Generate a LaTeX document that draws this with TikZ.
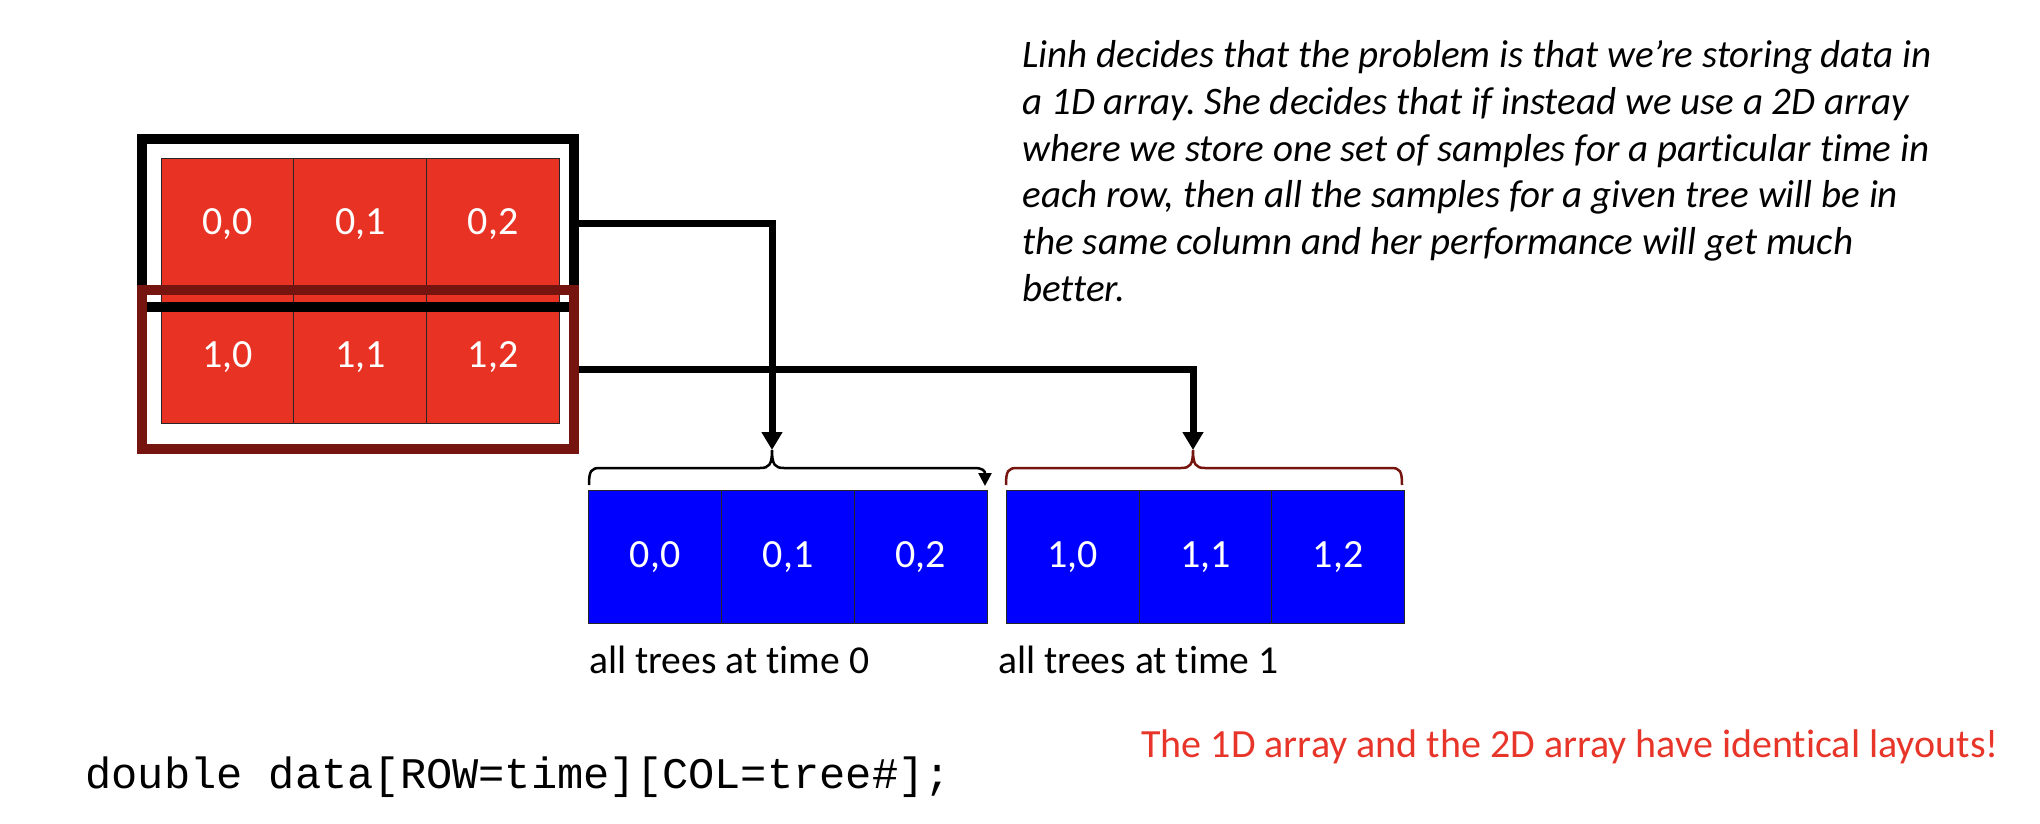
\documentclass[tikz,border=0pt]{standalone}
\usepackage{fontspec}
\setmainfont[Ligatures=CommonOff]{Carlito}
\newfontfamily\codefont{Liberation Mono}
\usepackage{tikz}
\usetikzlibrary{arrows.meta,positioning}
\frenchspacing

\definecolor{cellred}{HTML}{E83324}
\definecolor{framered}{HTML}{76140F}
\definecolor{cellblue}{HTML}{0000FF}
\definecolor{notered}{HTML}{E8352A}

\begin{document}
\begin{tikzpicture}[x=0.5pt, y=-0.5pt,
		cell/.style = {draw=black!85, line width=0.5pt, outer sep=0pt, minimum width=66.4pt, minimum height=66.2pt, text=white, font=\fontsize{20}{24}\selectfont},
		redcell/.style = {cell, fill=cellred},
		bluecell/.style = {cell, fill=cellblue},
		rowframe/.style = {draw, line width=5pt, minimum width=216pt},
		conn/.style = {line width=3.5pt, -{Triangle[length=9pt,width=10pt]}},
		caption/.style = {inner sep=0pt, font=\fontsize{19.8}{24}\selectfont}]
	\useasboundingbox (0,0) rectangle (2040,824);

	\node[redcell] (r00) at (227.5,224.5) {0,0};
	\node[redcell, right=0pt of r00] (r01) {0,1};
	\node[redcell, right=0pt of r01] (r02) {0,2};
	\node[redcell, below=0pt of r00] (r10) {1,0};
	\node[redcell, right=0pt of r10] (r11) {1,1};
	\node[redcell, right=0pt of r11] (r12) {1,2};

	\node[rowframe, draw=black, minimum height=84pt] (frame0) at (358,223) {};
	\node[rowframe, draw=framered, minimum height=79.5pt] (frame1) at (358,369.5) {};

	\node[bluecell] (b00) at (655.2,557) {0,0};
	\node[bluecell, right=0pt of b00] (b01) {0,1};
	\node[bluecell, right=0pt of b01] (b02) {0,2};
	\node[bluecell, right=9.5pt of b02] (b10) {1,0};
	\node[bluecell, right=0pt of b10] (b11) {1,1};
	\node[bluecell, right=0pt of b11] (b12) {1,2};

	\coordinate (tip0) at (772,450);
	\coordinate (tip1) at (1193,450);

	\draw[line width=1.25pt, -{Triangle[length=6.5pt,width=6.5pt]}] (589,485) .. controls (589,471) and (591,468) .. (600,468) -- (760,468) .. controls (769,468) and (772,465) .. (tip0) .. controls (772,465) and (775,468) .. (784,468) -- (974,468) .. controls (983,468) and (985,471) .. (985,486);
	\draw[framered, line width=1.25pt] (1006,485) .. controls (1006,471) and (1008,468) .. (1017,468) -- (1181,468) .. controls (1190,468) and (1193,465) .. (tip1) .. controls (1193,465) and (1196,468) .. (1205,468) -- (1391,468) .. controls (1400,468) and (1402,471) .. (1402,485);

	\draw[conn] (frame0.east) -| (tip0);
	\draw[conn] (frame1.east) -| (tip1);

	\node[caption, anchor=west] (time0) at ([yshift=-18.5pt]b00.south west) {all trees at time 0};
	\node[caption, anchor=west] (time1) at ([xshift=-4pt, yshift=-18.5pt]b10.south west) {all trees at time 1};

	\node[inner sep=0pt, anchor=west, font=\codefont\fontsize{21.85}{26}\selectfont] (decl) at (85,777) {double data[ROW=time][COL=tree\#];};
	\node[inner sep=0pt, anchor=west, text=notered, font=\fontsize{20}{24}\selectfont] (same) at (1141,747) {The 1D array and the 2D array have identical layouts!};

	\node[inner sep=0pt, anchor=north west, align=left, font=\itshape\fontsize{19.5}{23.4}\selectfont] (note) at (1022,40) {Linh decides that the problem is that we’re storing data in\\
		a 1D array. She decides that if instead we use a 2D array\\
		where we store one set of samples for a particular time in\\
		each row, then all the samples for a given tree will be in\\
		the same column and her performance will get much\\
		better.};

\end{tikzpicture}
\end{document}
